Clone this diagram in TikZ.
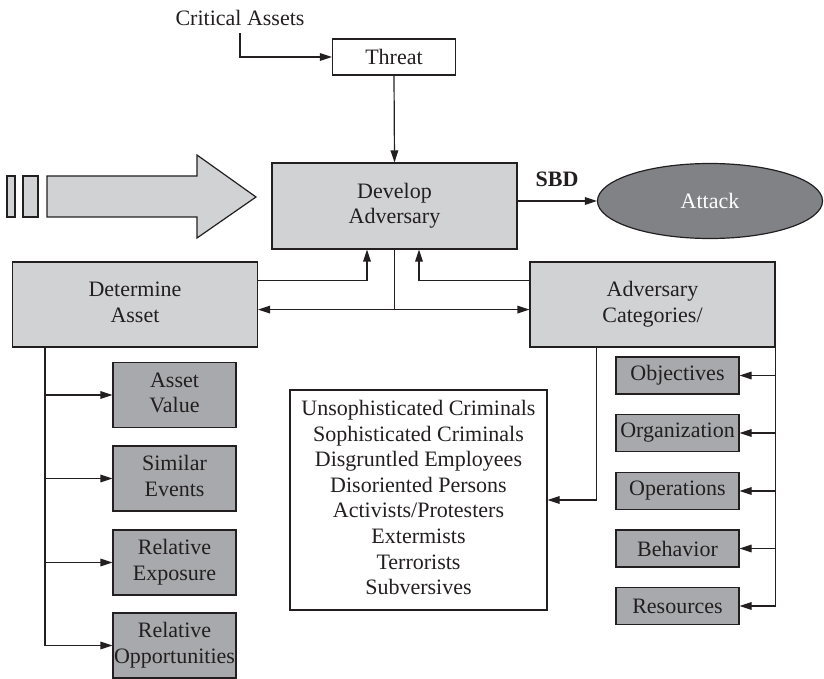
\documentclass[tikz,border=0pt]{standalone}
\usepackage{fontspec}
\setmainfont{Liberation Serif}
\usetikzlibrary{shapes,arrows,arrows.meta}
\usetikzlibrary{calc}
\definecolor{mylight}{RGB}{209, 210, 212}
\definecolor{mydark}{RGB}{167, 169, 172}
\definecolor{myellipse}{RGB}{128, 130, 133}
\definecolor{myink}{RGB}{35, 31, 32}
\setlength{\tabcolsep}{0pt}

\begin{document}
\begin{tikzpicture}[x=0.5pt,y=-0.5pt,font=\fontsize{11}{12.8}\selectfont,line width=0.6pt,color=myink,>={Triangle[length=6pt,width=3.8pt]}]

\tikzstyle{white_block} = [draw, fill=white, inner sep=0, minimum width=61.5pt, minimum height=18pt]
\tikzstyle{light_block} = [draw, fill=mylight, inner sep=0, minimum width=122.5pt, minimum height=42.5pt]
\tikzstyle{dark_block} = [draw, fill=mydark, inner sep=0, minimum width=61.5pt, minimum height=32.5pt]
\tikzstyle{small_block} = [draw, fill=mydark, inner sep=0, minimum width=61.5pt, minimum height=18.5pt]

\useasboundingbox (0,0) rectangle (824,679);

% top part
\node (crit) at (240,18) {Critical Assets};
\node [white_block] (threat) at (394,57) {Threat};
\node [light_block, minimum height=43pt] (develop) at (394.5,206) {\begin{tabular}{c} Develop\\ Adversary\end{tabular}};
\node [ellipse, draw, fill=myellipse, text=white, minimum width=112.5pt, minimum height=37.5pt] (attack) at (710,201) {Attack};
\node (sbd) at (557,179) {\bfseries SBD};

% big arrow
\draw[fill=mylight] (47,176) -- (197,176) -- (197,155) -- (256,197) -- (197,238) -- (197,217) -- (47,217) -- cycle;
\draw[fill=mylight] (7,176) rectangle (15,217);
\draw[fill=mylight] (23,176) rectangle (38,217);

\node [light_block] (asset) at (135,304.5) {\begin{tabular}{c} Determine\\ Asset\end{tabular}};
\node [light_block] (categ) at (652.5,304.5) {\begin{tabular}{c} Adversary\\ Categories/\end{tabular}};

% left column
\node [dark_block] (value) at (174.5,395) {\begin{tabular}{c} Asset\\ Value\end{tabular}};
\node [dark_block] (events) at (174.5,478.5) {\begin{tabular}{c} Similar\\ Events\end{tabular}};
\node [dark_block] (exposure) at (174.5,562.5) {\begin{tabular}{c} Relative\\ Exposure\end{tabular}};
\node [dark_block] (opport) at (174.5,645.5) {\begin{tabular}{c} Relative\\ Opportunities\end{tabular}};

% list of adversaries
\node [draw, fill=white, inner sep=0, minimum width=128.5pt, minimum height=110pt] (list) at (418.5,500) {\begin{tabular}{c} Unsophisticated Criminals\\ Sophisticated Criminals\\ Disgruntled Employees\\ Disoriented Persons\\ Activists/Protesters\\ Extermists\\ Terrorists\\ Subversives\end{tabular}};

% right column
\node [small_block] (object) at (677.5,375.5) {Objectives};
\node [small_block] (organ) at (677.5,433) {Organization};
\node [small_block] (operat) at (677.5,491) {Operations};
\node [small_block] (behav) at (677.5,548.5) {Behavior};
\node [small_block] (resour) at (677.5,606) {Resources};

\coordinate (split) at ($(develop.south)+(0,60)$);

\draw[->] (crit.south) |- (threat.west);
\draw[->] (threat.south) -- (develop.north);
\draw[->] (attack.west -| develop.east) -- (attack.west);
\draw[->] ([yshift=-9.5pt]asset.north east) -| ([xshift=-13.75pt]develop.south);
\draw[->] ([yshift=-9.5pt]categ.north west) -| ([xshift=12.25pt]develop.south);
\draw (develop.south) -- (split);
\draw[->] (split) -- (split -| asset.east);
\draw[->] (split) -- (split -| categ.west);
\draw[->] ([xshift=33.5pt]categ.south west) |- (list.east);

\foreach \blk in {value,events,exposure,opport}
  \draw[->] ([xshift=16.5pt]asset.south west) |- (\blk.west);
\foreach \blk in {object,organ,operat,behav,resour}
  \draw[->] (categ.south east) |- (\blk.east);

\end{tikzpicture}
\end{document}
